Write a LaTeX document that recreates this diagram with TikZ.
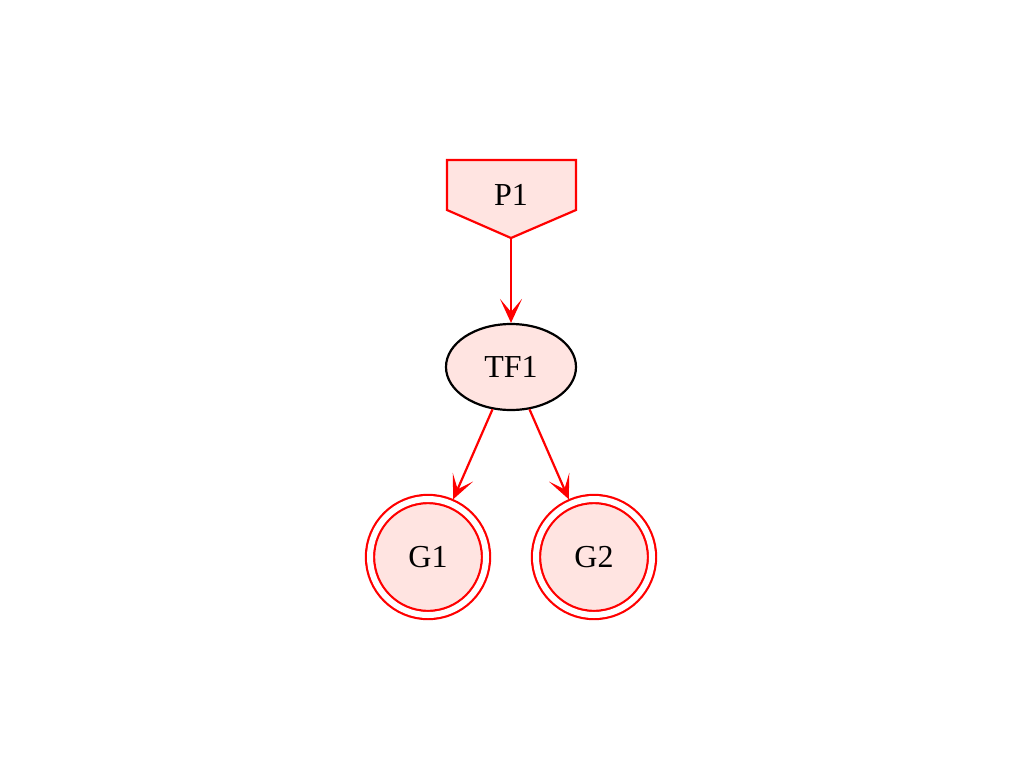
\documentclass[tikz,border=0pt]{standalone}
\usepackage{fontspec}
\setmainfont{Liberation Serif}
\usetikzlibrary{shapes.geometric,arrows.meta}
\definecolor{nodefill}{HTML}{FFE4E1}
\begin{document}
\begin{tikzpicture}[x=1pt,y=-1pt,
  every node/.style={font=\fontsize{32}{38}\selectfont},
  edge/.style={draw=red,line width=2.2pt,-{Stealth[length=24pt,width=22pt,inset=13pt]}},
  goal/.style={circle,draw=red,fill=nodefill,double,double distance=6pt,line width=2.2pt,
    minimum size=116pt,inner sep=0pt,outer sep=5pt}]
  \useasboundingbox (0,0) rectangle (1024,768);
  % plan node
  \draw[red,fill=nodefill,line width=2.2pt] (447,160) -- (576,160) -- (576,210)
    -- (511,238) -- (447,210) -- cycle;
  \node (P1) at (511,195) {P1};
  \coordinate (P1tip) at (511,238);
  \node[ellipse,draw=black,fill=nodefill,line width=2.2pt,minimum width=130pt,
    minimum height=86pt,inner sep=0pt] (TF1) at (511,367) {TF1};
  \node[goal] (G1) at (428,557) {G1};
  \node[goal] (G2) at (594,557) {G2};
  \draw[edge] (P1tip) -- (TF1);
  \draw[edge] (TF1) -- (G1);
  \draw[edge] (TF1) -- (G2);
\end{tikzpicture}
\end{document}
